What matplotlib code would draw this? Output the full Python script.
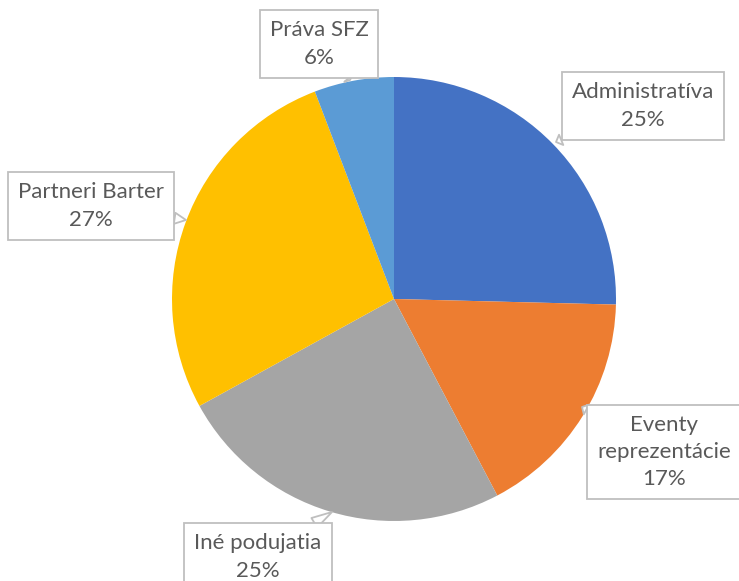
import matplotlib.pyplot as plt

# data
labels = ['Administratíva', 'Eventy\nreprezentácie', 'Iné podujatia', 'Partneri Barter', 'Práva SFZ']
values = [25.4, 16.9, 24.7, 27.2, 5.8]
colors = ['#4472C4', '#ED7D31', '#A5A5A5', '#FFC000', '#5B9BD5']

# label box centers (pixels from top-left) and pointer targets
box_pos = [(643, 106), (664, 452), (258, 557), (91, 206), (319, 44)]
tip_pos = [(556, 142), (582, 407), (332, 512), (186, 220), (350, 80)]

W, H = 739, 581


def main():
    plt.rcParams['font.family'] = ['Lato', 'DejaVu Sans']
    fig = plt.figure(figsize=(W / 100, H / 100), dpi=100)
    ax = fig.add_axes([0, 0, 1, 1])

    ax.pie(values, colors=colors, startangle=90, counterclock=False,
           center=(394, H - 299), radius=222, frame=True,
           wedgeprops=dict(linewidth=0))
    ax.set_xlim(0, W)
    ax.set_ylim(0, H)
    ax.set_aspect('equal')
    ax.axis('off')

    total = sum(values)
    for lab, v, (bx, by), (tx, ty) in zip(labels, values, box_pos, tip_pos):
        txt = '%s\n%d%%' % (lab, round(v / total * 100))
        ax.annotate(txt, xy=(tx, H - ty), xytext=(bx, H - by),
                    ha='center', va='center', fontsize=16, color='#595959',
                    linespacing=1.45,
                    bbox=dict(boxstyle='square,pad=0.45', fc='white', ec='#BFBFBF', lw=1.3),
                    arrowprops=dict(arrowstyle='wedge,tail_width=0.5', fc='white',
                                    ec='#BFBFBF', lw=1.3, shrinkA=0, shrinkB=0))

    fig.savefig('out.png', dpi=100)


if __name__ == '__main__':
    main()
